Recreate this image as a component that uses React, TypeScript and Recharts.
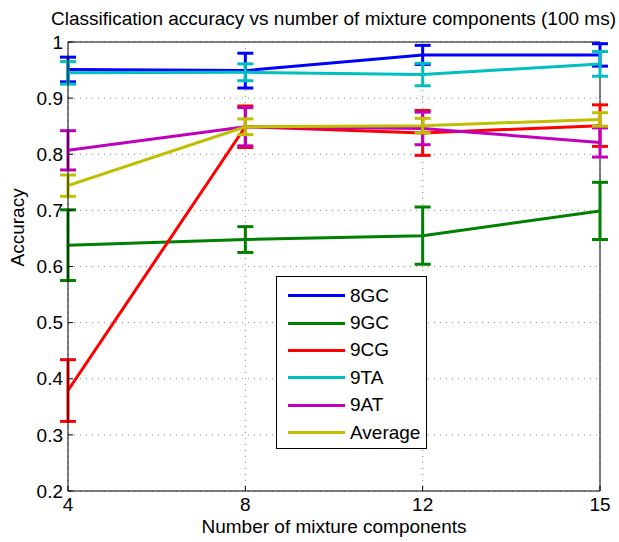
import { CartesianGrid, ErrorBar, Line, LineChart, ReferenceLine, XAxis, YAxis } from "recharts";

const components = ["4", "8", "12", "15"];

const acc8GC = [0.951, 0.949, 0.977, 0.977];
const err8GC = [0.022, 0.031, 0.017, 0.02];
const acc9GC = [0.638, 0.648, 0.655, 0.699];
const err9GC = [0.063, 0.023, 0.051, 0.051];
const acc9CG = [0.379, 0.849, 0.838, 0.851];
const err9CG = [0.055, 0.037, 0.04, 0.037];
const acc9TA = [0.945, 0.946, 0.942, 0.961];
const err9TA = [0.02, 0.015, 0.02, 0.022];
const acc9AT = [0.807, 0.849, 0.846, 0.821];
const err9AT = [0.035, 0.034, 0.029, 0.026];
const accAvg = [0.744, 0.849, 0.851, 0.862];
const errAvg = [0.019, 0.014, 0.013, 0.012];

const yTicks = [0.2, 0.3, 0.4, 0.5, 0.6, 0.7, 0.8, 0.9, 1];

const series = [
  { key: "8GC", acc: acc8GC, err: err8GC, color: "#0000ff" },
  { key: "9GC", acc: acc9GC, err: err9GC, color: "#008000" },
  { key: "9CG", acc: acc9CG, err: err9CG, color: "#ff0000" },
  { key: "9TA", acc: acc9TA, err: err9TA, color: "#00bfbf" },
  { key: "9AT", acc: acc9AT, err: err9AT, color: "#bf00bf" },
  { key: "Average", acc: accAvg, err: errAvg, color: "#bfbf00" },
];

const data = components.map((c, i) => {
  const row: Record<string, string | number> = { n: c };
  series.forEach((s) => {
    row[s.key] = s.acc[i];
    row[s.key + "_err"] = s.err[i];
  });
  return row;
});

const font = "'Liberation Sans', Arial, sans-serif";
const fs = 19;

function LegendBox() {
  return (
    <div
      style={{
        position: "absolute",
        left: 276,
        top: 276,
        width: 151,
        height: 173,
        boxSizing: "border-box",
        border: "1px solid #000",
        background: "#fff",
        padding: "5px 0 0 11px",
        fontFamily: font,
        fontSize: fs,
        color: "#000",
      }}
    >
      {series.map((s) => (
        <div key={s.key} style={{ display: "flex", alignItems: "center", height: 27.4 }}>
          <div style={{ width: 57, height: 3, background: s.color, marginRight: 5 }} />
          <span>{s.key}</span>
        </div>
      ))}
    </div>
  );
}

export default function App() {
  return (
    <div style={{ position: "absolute", left: 0, top: 0, width: 619, height: 542, background: "#fff" }}>
      <div
        style={{
          position: "absolute",
          top: 8,
          left: 0,
          width: 667,
          textAlign: "center",
          fontFamily: font,
          fontSize: fs,
          whiteSpace: "nowrap",
        }}
      >
        Classification accuracy vs number of mixture components (100 ms)
      </div>
      <LineChart width={619} height={542} data={data} margin={{ top: 42, right: 19, bottom: 31, left: 0 }}>
        <CartesianGrid stroke="#888" strokeDasharray="1 5" />
        <XAxis
          dataKey="n"
          allowDataOverflow
          stroke="#000"
          tickSize={-5}
          tickMargin={12}
          tick={{ fill: "#000", fontSize: fs, fontFamily: font }}
          label={{ value: "Number of mixture components", position: "insideBottom", offset: -22, fill: "#000", fontSize: fs, fontFamily: font }}
          height={20}
        />
        <YAxis
          domain={[0.2, 1]}
          ticks={yTicks}
          allowDataOverflow
          stroke="#000"
          width={68}
          tickSize={-5}
          tickMargin={10}
          tick={{ fill: "#000", fontSize: fs, fontFamily: font }}
          label={{ value: "Accuracy", angle: -90, position: "insideLeft", offset: 17, fill: "#000", fontSize: fs, fontFamily: font }}
        />
        <ReferenceLine y={1} stroke="#000" strokeWidth={1} />
        <ReferenceLine x="15" stroke="#000" strokeWidth={1} />
        {series.map((s) => (
          <Line
            key={s.key}
            dataKey={s.key}
            stroke={s.color}
            strokeWidth={3}
            dot={false}
            activeDot={false}
            type="linear"
            isAnimationActive={false}
          >
            <ErrorBar dataKey={s.key + "_err"} width={8} stroke={s.color} strokeWidth={3} />
          </Line>
        ))}
      </LineChart>
      <LegendBox />
    </div>
  );
}
